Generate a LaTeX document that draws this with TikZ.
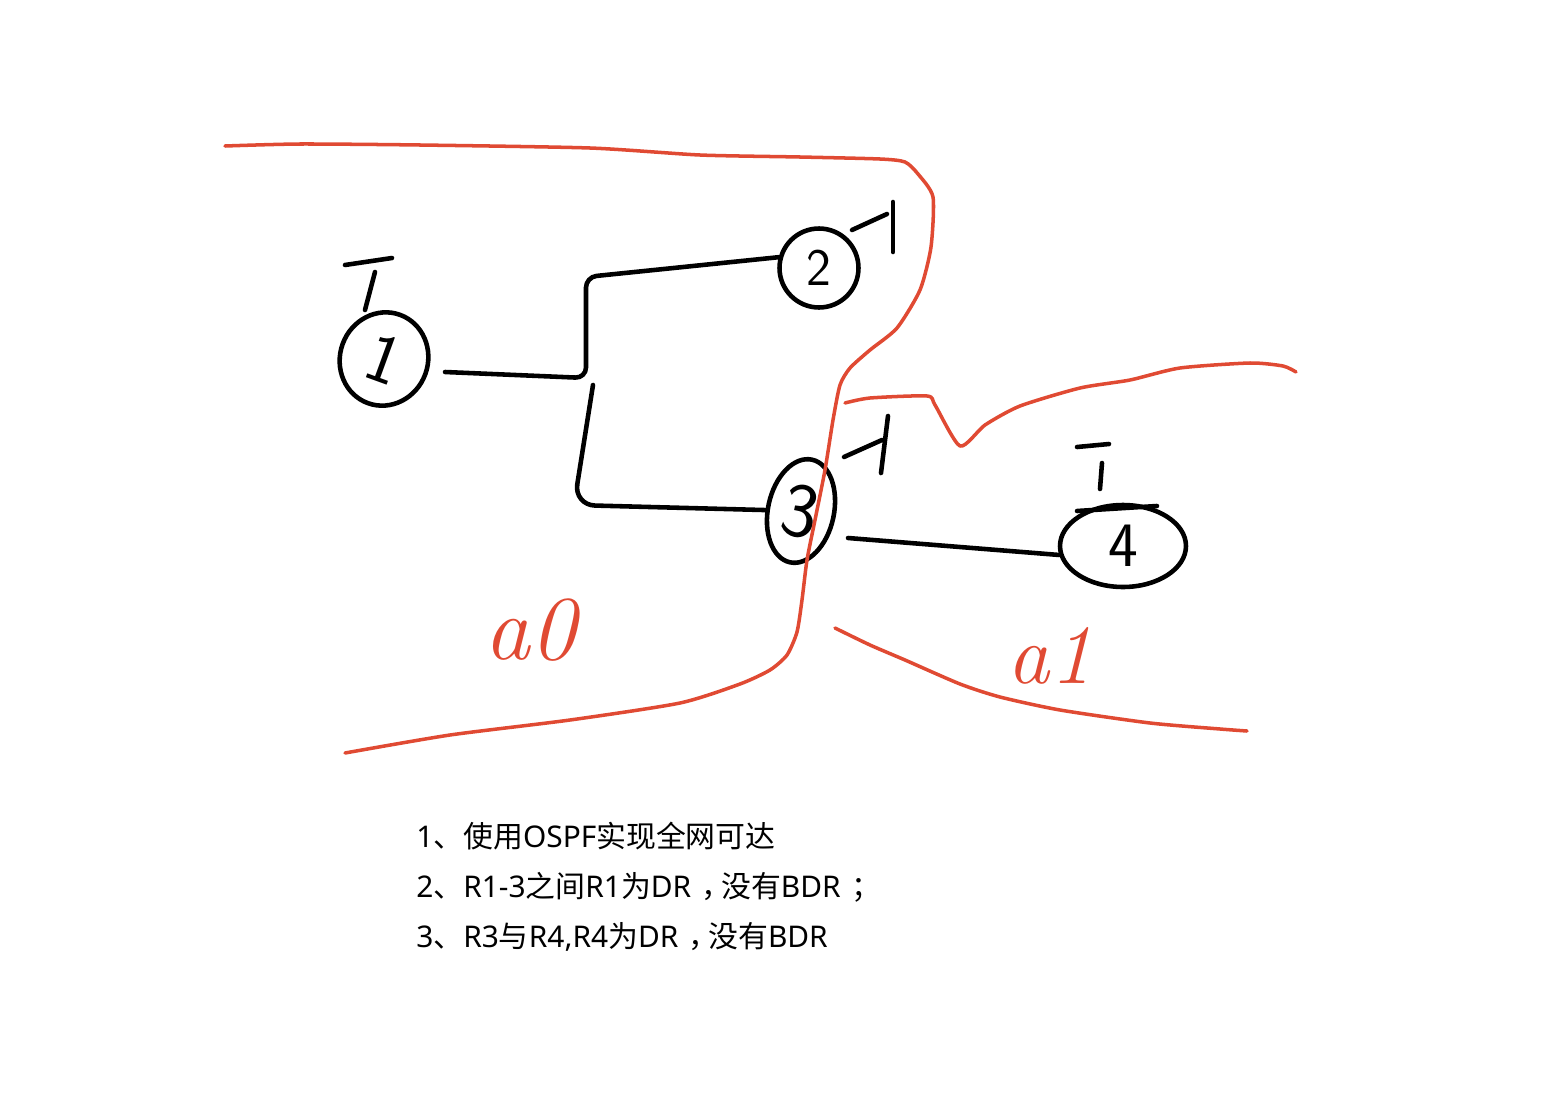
\documentclass[tikz,border=0pt]{standalone}
\usepackage{fontspec}
\newfontfamily\cjkfont{Noto Sans CJK SC}
\newfontfamily\latfont{Noto Sans}
\newcommand{\lat}[1]{{\latfont #1}}
\newcommand{\fwmark}[1]{\kern0.35em#1\kern-0.35em}
\usetikzlibrary{shapes.geometric, positioning}
\definecolor{areared}{HTML}{E04A33}
\tikzset{
	routernode/.style={
			ellipse,
			draw=black,
			line width=2.6pt,
			inner sep=0pt,
			font=\sffamily\fontsize{30}{30}\selectfont
		},
	linkline/.style={
			draw=black,
			line width=2.6pt,
			line cap=round,
			line join=round,
			rounded corners=6pt
		},
	arealine/.style={
			draw=areared,
			line width=2pt,
			line cap=round,
			line join=round
		},
	arealabel/.style={
			text=areared,
			inner sep=0pt,
			font=\itshape\fontsize{52}{52}\selectfont
		},
	notetext/.style={
			anchor=base west,
			inner sep=0pt,
			font=\cjkfont\fontsize{17}{17}\selectfont
		}
}

\begin{document}
\begin{tikzpicture}[x=0.02cm, y=-0.02cm]
\useasboundingbox (0,0) rectangle (1546,1116);

\node[routernode, minimum width=1.76cm, minimum height=1.88cm, rotate=-20, font=\sffamily\fontsize{40}{40}\selectfont] (r1) at (384,359) {1};
\node[routernode, minimum width=1.58cm, minimum height=1.58cm] (r2) at (819,268) {2};
\node[routernode, minimum width=1.32cm, minimum height=2.1cm, rotate=-12, font=\sffamily\fontsize{44}{44}\selectfont] (r3) at (801,511) {3};
\node[routernode, minimum width=2.52cm, minimum height=1.64cm, font=\sffamily\fontsize{36}{36}\selectfont] (r4) at (1123,546) {4};

\coordinate (j1) at (586,378);
\coordinate (j2) at (586,277);
\coordinate (j3) at (593,385);
\coordinate (j4) at (574,505);

\draw[linkline] (r1) ++(61,13) -- (j1) -- (j2) -- (r2.165);
\draw[linkline, rounded corners=12pt] (j3) -- (j4) -- (r3);
\draw[linkline] (r3) ++(47,27) -- (r4.188);

\draw[linkline] (345,265) -- (392,258);
\draw[linkline] (375,272) -- (365,310);
\draw[linkline] (852,230) -- (887,214);
\draw[linkline] (893,202) -- (893,252);
\draw[linkline] (844,457) -- (882,440);
\draw[linkline] (888,416) -- (881,473);
\draw[linkline] (1077,447) -- (1109,444);
\draw[linkline] (1102,463) -- (1100,489);
\draw[linkline] (1077,511) -- (1157,506);

\draw[arealine] plot[smooth, tension=0.4] coordinates {
  (225,146) (300,144) (420,145) (590,148) (700,155) (800,157) (880,159)
  (905,162) (918,174) (933,197) (931,247) (920,290) (897,328) (870,350)
  (850,368) (840,385) (833,420) (825,470) (815,520) (807,560) (802,600)
  (797,632) (787,655) (770,670) (740,684) (680,703) (570,720) (450,735) (345,753)};
\draw[arealine] plot[smooth, tension=0.4] coordinates {
  (845,403) (870,398) (927,396) (935,405) (960,446) (985,425) (1020,406)
  (1080,388) (1130,380) (1180,368) (1250,363) (1283,366) (1296,372)};
\draw[arealine] plot[smooth, tension=0.4] coordinates {
  (835,628) (870,645) (905,660) (960,684) (1000,697) (1060,710) (1150,723)
  (1220,729) (1247,731)};

\node[arealabel] (a0) at (530,630) {a0};
\node[arealabel, font=\itshape\fontsize{48}{48}\selectfont] (a1) at (1050,656) {a1};

\node[notetext] (t1) at (416,847) {\lat{1}、使用\lat{OSPF}实现全网可达};
\node[notetext] (t2) at (416,897) {\lat{2}、\lat{R1-3}之间\lat{R1}为\lat{DR}\fwmark{，}没有\lat{BDR}\fwmark{；}};
\node[notetext] (t3) at (416,947) {\lat{3}、\lat{R3}与\lat{R4,R4}为\lat{DR}\fwmark{，}没有\lat{BDR}};
\end{tikzpicture}
\end{document}
